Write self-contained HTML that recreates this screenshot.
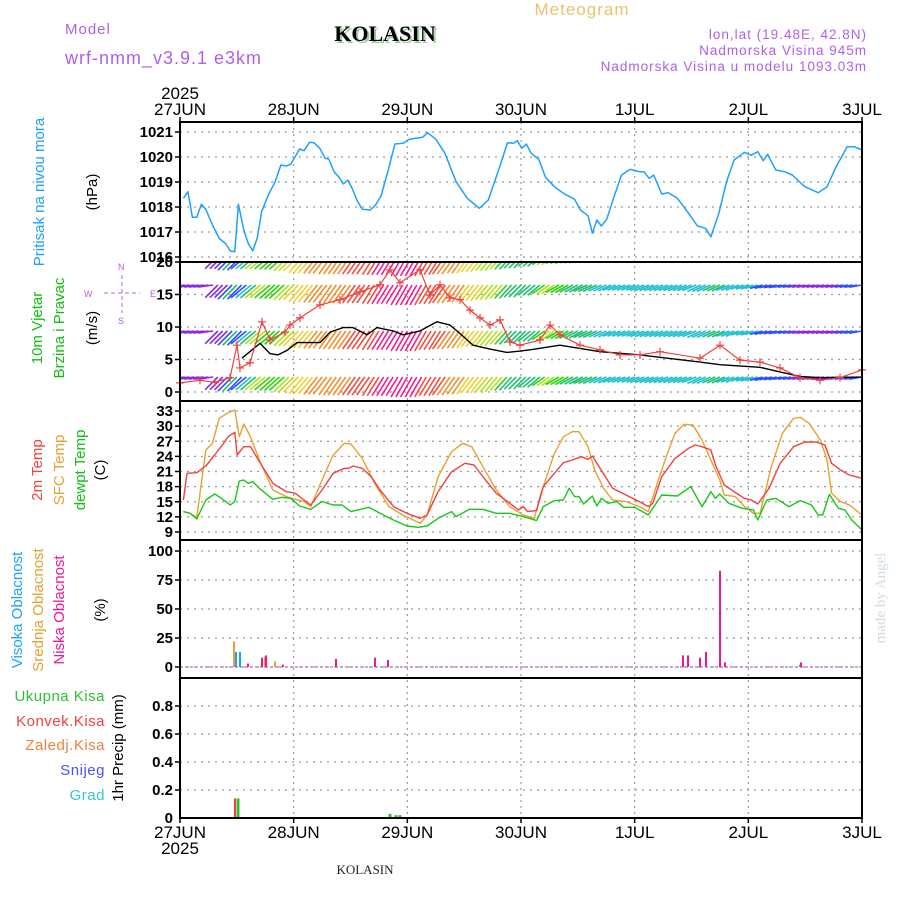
<!DOCTYPE html>
<html><head><meta charset="utf-8">
<style>
body{margin:0;background:#fff;}
svg{display:block;font-family:"Liberation Sans","DejaVu Sans",sans-serif;}
.tk{font-size:15px;fill:#000;text-anchor:end;font-weight:bold;}
.dl{font-size:17px;fill:#000;text-anchor:middle;}
</style></head>
<body>
<svg id="chart" width="900" height="900" viewBox="0 0 900 900">
<rect width="900" height="900" fill="#fff"/>
<text x="582" y="15" font-size="17" fill="#f0c070" text-anchor="middle" letter-spacing="1">Meteogram</text>
<text x="65" y="34" font-size="15" fill="#b060e8" letter-spacing="1">Model</text>
<text x="65" y="64" font-size="18" fill="#b060e8" letter-spacing="1">wrf-nmm_v3.9.1 e3km</text>
<text x="387" y="43" font-size="22" font-weight="bold" fill="#9c9" font-family="Liberation Serif,serif" text-anchor="middle">KOLASIN</text>
<text x="385" y="41" font-size="22" font-weight="bold" fill="#000" font-family="Liberation Serif,serif" text-anchor="middle">KOLASIN</text>
<text x="867" y="39" font-size="13.5" fill="#b060e8" text-anchor="end" letter-spacing="1">lon,lat (19.48E, 42.8N)</text>
<text x="867" y="55" font-size="13.5" fill="#b060e8" text-anchor="end" letter-spacing="1">Nadmorska Visina 945m</text>
<text x="867" y="71" font-size="13.5" fill="#b060e8" text-anchor="end" letter-spacing="1">Nadmorska Visina u modelu 1093.03m</text>
<text x="365" y="874" font-size="13" fill="#222" font-family="Liberation Serif,serif" text-anchor="middle">KOLASIN</text>
<text transform="translate(885,598) rotate(-90)" font-size="15" fill="#cfe0cf" font-family="Liberation Serif,serif" text-anchor="middle">made by Angel</text>

<text transform="translate(44,192) rotate(-90)" font-size="15" fill="#1ea0ff" text-anchor="middle">Pritisak na nivou mora</text>
<text transform="translate(97,192) rotate(-90)" font-size="15" fill="#000" text-anchor="middle">(hPa)</text>
<text transform="translate(42,328) rotate(-90)" font-size="15" fill="#10c010" text-anchor="middle">10m Vjetar</text>
<text transform="translate(64,328) rotate(-90)" font-size="15" fill="#10c010" text-anchor="middle">Brzina i Pravac</text>
<text transform="translate(97,328) rotate(-90)" font-size="15" fill="#000" text-anchor="middle">(m/s)</text>
<g fill="#b060e8" stroke="#b060e8" font-size="9">
<text x="84" y="297" stroke="none">W</text><text x="150" y="297" stroke="none">E</text>
<text x="118" y="270" stroke="none">N</text><text x="118" y="324" stroke="none">S</text>
<line x1="104" y1="293" x2="140" y2="293" stroke-dasharray="4,3"/><line x1="122" y1="275" x2="122" y2="313" stroke-dasharray="4,3"/>
</g>
<text transform="translate(42,470) rotate(-90)" font-size="15" fill="#f04040" text-anchor="middle">2m Temp</text>
<text transform="translate(64,470) rotate(-90)" font-size="15" fill="#e8a030" text-anchor="middle">SFC Temp</text>
<text transform="translate(85,470) rotate(-90)" font-size="15" fill="#10c010" text-anchor="middle">dewpt Temp</text>
<text transform="translate(105,470) rotate(-90)" font-size="15" fill="#000" text-anchor="middle">(C)</text>
<text transform="translate(22,610) rotate(-90)" font-size="15" fill="#1ea0ff" text-anchor="middle">Visoka Oblacnost</text>
<text transform="translate(43,610) rotate(-90)" font-size="15" fill="#e8a030" text-anchor="middle">Srednja Oblacnost</text>
<text transform="translate(64,610) rotate(-90)" font-size="15" fill="#f01890" text-anchor="middle">Niska Oblacnost</text>
<text transform="translate(105,610) rotate(-90)" font-size="15" fill="#000" text-anchor="middle">(%)</text>
<g font-size="15" text-anchor="end" letter-spacing="0.5">
<text x="105" y="701" fill="#30c030">Ukupna  Kisa</text>
<text x="105" y="726" fill="#f04040">Konvek.Kisa</text>
<text x="105" y="750" fill="#f08040">Zaledj.Kisa</text>
<text x="105" y="775" fill="#5050f0">Snijeg</text>
<text x="105" y="800" fill="#30c8c8">Grad</text>
</g>
<text transform="translate(123,748) rotate(-90)" font-size="15" fill="#000" text-anchor="middle">1hr Precip (mm)</text>
</svg>
<script>
// ---- data ----
var dayLabels=["27JUN","28JUN","29JUN","30JUN","1JUL","2JUL","3JUL"];
var presTicks=[1016,1017,1018,1019,1020,1021];
var windTicks=[0,5,10,15,20];
var tempTicks=[9,12,15,18,21,24,27,30,33];
var cloudTicks=[0,25,50,75,100];
var precipTicks=[0.2,0.4,0.6,0.8];
var precipTickLabels=["0.2","0.4","0.6","0.8"];

var presZX=[30,40,50,60,70,80,95,110,125,135,145,153,165,175,185,195,205,220,235,248,260,270,290,300,312,322,335,347,355,367,378,388,398,408,418,430,448,460,472,488,503,522,535,550,565,576,595,615,640,665,692,712,735,755,768,777,787,797,808,825,840,860,880,905,918,935,945,955,965,977,992,1010,1030,1050,1060,1072,1082,1100,1115,1135,1160,1180,1198,1210,1228,1245,1262,1285,1300,1315,1327,1337,1355,1375,1392,1420,1450,1470,1490,1515,1530,1548];
var presZY=[235,215,292,292,253,268,315,355,372,393,395,253,330,370,392,355,275,225,185,135,138,133,87,92,67,68,85,115,117,155,172,192,180,207,240,268,270,255,228,152,72,70,58,55,52,38,58,100,185,235,265,240,150,68,70,62,85,72,100,118,172,200,220,238,270,287,340,300,318,298,235,165,148,155,155,175,165,222,218,235,280,318,325,350,280,185,120,97,106,95,122,103,150,155,165,200,218,200,140,80,80,90];

var t2ZX=[30,38,60,80,100,120,130,145,150,165,180,200,230,260,280,300,315,340,365,390,400,410,430,450,470,500,530,560,575,600,630,660,680,700,730,760,780,790,800,820,835,860,880,900,920,935,945,960,990,1020,1050,1070,1080,1100,1130,1160,1175,1190,1210,1220,1240,1265,1285,1300,1315,1340,1365,1395,1420,1445,1465,1480,1500,1520,1548];
var t2ZY=[300,220,218,198,165,130,110,97,165,140,140,185,250,275,280,300,315,270,220,205,205,198,205,230,270,320,340,355,345,275,215,190,195,230,280,310,330,320,335,332,260,220,188,180,170,178,168,200,265,285,305,320,310,230,175,145,135,140,150,195,255,278,295,300,312,265,190,140,126,126,135,190,210,225,235];
var sfcZX=[30,45,60,80,95,110,130,145,155,165,180,200,230,260,280,300,315,340,365,390,405,430,460,490,520,560,575,600,630,655,675,700,730,760,790,815,830,860,880,900,915,935,950,970,990,1020,1050,1070,1090,1110,1130,1150,1170,1190,1210,1230,1240,1265,1285,1305,1320,1345,1370,1395,1410,1430,1455,1470,1480,1500,1520,1548];
var sfcZY=[335,340,352,150,130,55,38,30,110,72,110,180,270,290,298,305,320,240,165,130,132,175,255,320,345,370,345,230,155,130,140,200,270,320,345,355,280,160,110,95,95,140,210,265,300,305,320,335,250,170,100,73,75,120,180,240,285,290,320,340,340,200,100,55,52,70,120,180,280,305,315,345];
var dewZX=[30,45,60,80,100,115,135,145,155,165,175,185,200,230,250,270,290,315,340,365,385,405,445,470,500,530,555,575,600,630,640,670,700,730,760,790,820,835,860,880,893,905,915,925,945,955,965,980,1000,1015,1040,1070,1100,1135,1165,1190,1210,1220,1230,1250,1280,1305,1315,1335,1355,1385,1410,1435,1450,1460,1475,1495,1510,1525,1548];
var dewZY=[335,340,357,300,282,295,315,305,243,240,250,245,265,298,292,295,318,328,305,315,315,335,322,340,360,378,382,378,355,335,350,328,328,340,340,350,362,320,302,300,265,290,290,312,288,318,295,310,305,322,322,345,285,288,260,320,275,295,282,310,325,330,360,300,295,320,302,315,345,345,283,325,330,360,390];

var windX=[242,260,270,278,287,297,320,330,343,353,367,377,393,403,420,437,450,460,473,490,507,520,530,560,600,640,700,720,760,780,800,820,862];
var windSpd=[5.2,7.5,5.9,5.7,6.4,7.6,7.6,9.2,9.9,9.9,8.8,9.9,9.4,8.8,9.4,10.8,10.3,9.0,7.2,6.6,6.1,6.3,6.5,7.2,6.2,5.7,4.6,4.2,3.8,3.1,2.4,2.2,2.3];
var gustX=[180,200,215,230,237,240,250,262,270,285,290,300,320,340,360,380,390,400,420,430,440,450,460,470,480,490,500,510,520,540,550,560,580,600,620,640,660,700,720,740,760,780,800,820,840,862];
var gustSpd=[1.4,1.8,1.5,2.2,7.2,3.7,4.5,10.8,8.0,9.2,10.3,11.4,13.4,14.2,15.4,16.5,18.8,16.8,18.8,14.9,16.5,14.5,14.2,12.6,11.4,10.3,11.1,7.7,7.2,8.0,10.3,8.8,7.2,6.5,5.7,5.7,6.2,5.2,7.2,4.9,4.6,3.7,2.2,1.8,2.2,3.4];
// barb direction (deg below leftward horizontal) and length every 3 hours (49 values)
var barbAng=[8,8,8,45,45,40,40,42,45,50,52,55,55,55,58,58,60,60,58,55,55,52,50,48,45,40,35,30,28,25,25,22,22,22,22,22,22,25,25,22,18,15,12,10,10,10,10,10,10];
var barbLen=[15,15,15,18,20,20,20,20,21,22,22,22,22,22,22,22,23,23,22,22,21,20,19,18,17,16,15,15,15,15,14,14,14,15,15,15,15,15,14,14,13,13,13,13,13,13,13,13,13];

var cloudHiX=[236,240,800];
var cloudHi=[13,13,2];
var cloudMidX=[234,265,275];
var cloudMid=[22,9,5];
var cloudLowX=[248,262,266,283,336,375,388,683,688,700,706,720,725,801];
var cloudLow=[3,8,10,2,7,8,6,10,10,8,13,83,4,4];
var rainX=[236,388,394,398];
var rainTot=[0.14,0.03,0.02,0.02];
var convX=[237];
var convVal=[0.14];

// ---- axes ----
var X0=180,X1=862,HRS=144,ZS=2.237;
function xh(h){return X0+h*(X1-X0)/HRS;}
function zxToH(zx){return (170+zx/ZS-X0)*HRS/(X1-X0);}
function xpx(px){return (px-X0)*HRS/(X1-X0);}
function yP(v){return 257-(v-1016)*25;}
function yW(v){return 392-v*6.5;}
function yT(v){return 532-(v-9)*121/24;}
function yC(v){return 667-v*1.16;}
function yR(v){return 818-v*140;}

var svg=document.getElementById('chart'),NS='http://www.w3.org/2000/svg';
function mk(tag,attrs,parent){var e=document.createElementNS(NS,tag);for(var k in attrs)e.setAttribute(k,attrs[k]);(parent||svg).appendChild(e);return e;}

var gGrid=mk('g',{});


for(var d=1;d<6;d++){var gx=xh(d*24);var vl=mk('line',{x1:gx,x2:gx,y1:122,y2:818,stroke:'#999','stroke-dasharray':'2,4','stroke-width':1.2},gGrid);

}
function hgrid(ticks,fy,labels,name){
 ticks.forEach(function(t,i){var y=fy(t);
  var gl=mk('line',{x1:X0,x2:X1,y1:y,y2:y,stroke:'#999','stroke-dasharray':'2,5','stroke-width':1.2},gGrid);
  
  
  var tl=mk('line',{x1:X0-5,x2:X0,y1:y,y2:y,stroke:'#000','stroke-width':1.5});
  
  
  var tx=mk('text',{x:X0-7,y:y+5,'class':'tk'});tx.textContent=labels?labels[i]:String(t);
  
  
 });}
hgrid(presTicks,yP,null,'pressure');
hgrid(windTicks,yW,null,'wind');
hgrid(tempTicks,yT,null,'temp');
hgrid(cloudTicks,yC,null,'cloud');
hgrid(precipTicks,yR,precipTickLabels,'precip');
var z=mk('text',{x:X0-7,y:823,'class':'tk'});z.textContent='0';



dayLabels.forEach(function(l,i){var x=xh(i*24);
 var t1=mk('text',{x:x,y:115,'class':'dl'});t1.textContent=l;
 
 
 var t2=mk('text',{x:x,y:838,'class':'dl'});t2.textContent=l;
 
 
 var k1=mk('line',{x1:x,x2:x,y1:117,y2:122,stroke:'#000','stroke-width':1.5});
 
 
 var k2=mk('line',{x1:x,x2:x,y1:818,y2:823,stroke:'#000','stroke-width':1.5});
 
 
});
var yr1=mk('text',{x:X0,y:99,'class':'dl'});yr1.textContent='2025';


var yr2=mk('text',{x:X0,y:854,'class':'dl'});yr2.textContent='2025';



function poly(xs,ys,color,w,name){var pts=xs.map(function(x,i){return x.toFixed(1)+','+ys[i].toFixed(1);}).join(' ');
 var p=mk('polyline',{points:pts,fill:'none',stroke:color,'stroke-width':w,'stroke-linejoin':'round'});
 
 return p;}

poly(presZX.map(function(z){return xh(zxToH(z));}),presZY.map(function(z){return yP(1021.48-z/75);}),'#1ea0ff',1.5,'pressure-line');

function zyT(z){return 35.18-z/15.13;}
poly(sfcZX.map(function(z){return xh(zxToH(z));}),sfcZY.map(function(z){return yT(zyT(z));}),'#e8a030',1.4,'sfc-temp-line');
poly(t2ZX.map(function(z){return xh(zxToH(z));}),t2ZY.map(function(z){return yT(zyT(z));}),'#f04040',1.4,'temp-2m-line');
poly(dewZX.map(function(z){return xh(zxToH(z));}),dewZY.map(function(z){return yT(zyT(z));}),'#18c818',1.4,'dewpoint-line');

var cp=mk('clipPath',{id:'wclip'});mk('rect',{x:X0,y:263,width:X1-X0,height:137},cp);
var gB=mk('g',{'clip-path':'url(#wclip)'});


function gustAt(h){var px=xh(h);for(var i=1;i<gustX.length;i++){if(px<=gustX[i]){var f=(px-gustX[i-1])/(gustX[i]-gustX[i-1]);return gustSpd[i-1]+f*(gustSpd[i]-gustSpd[i-1]);}}return gustSpd[gustSpd.length-1];}
function colorFor(g){var stops=[[1,'#8a2be2'],[2.5,'#3050ff'],[4.5,'#20c0d0'],[6.5,'#20c070'],[8,'#30d010'],[9.5,'#b0e020'],[11,'#f0d030'],[13,'#f09030'],[15,'#f05040'],[17,'#f02090'],[19,'#e010a0']];
 for(var i=stops.length-1;i>=0;i--)if(g>=stops[i][0])return stops[i][1];return stops[0][1];}
var rows=[256,285,331,377];
for(var h=0;h<=144;h+=1){var i3=Math.min(48,Math.round(h/3));var a=barbAng[i3]*Math.PI/180,L=barbLen[i3];var c=colorFor(gustAt(h));
 rows.forEach(function(Y){var x=xh(h);
  var b=mk('line',{x1:x,y1:Y,x2:x-L*Math.cos(a),y2:Y+L*Math.sin(a),stroke:c,'stroke-width':1.6},gB);
  
  
 });}
poly(windX.map(function(p){return xh(xpx(p));}),windSpd.map(yW),'#000',1.4,'wind-speed-line');
poly(gustX.map(function(p){return xh(xpx(p));}),gustSpd.map(yW),'#f04040',1.2,'wind-gust-line');
gustX.forEach(function(p,i){var x=xh(xpx(p)),y=yW(gustSpd[i]);
 var m=mk('path',{d:'M'+(x-4)+' '+y+'h8M'+x+' '+(y-4)+'v8',stroke:'#f04040','stroke-width':1.2});
 
 });

var base=mk('line',{x1:X0,x2:X1,y1:yC(0),y2:yC(0),stroke:'#b070c0','stroke-width':1.2,'stroke-dasharray':'3,2'});


function bars(xs,vals,fy,color,name,w,off){xs.forEach(function(p,i){var x=xh(xpx(p))+(off||0),y=fy(vals[i]),y0=fy(0);
 var r=mk('rect',{x:x-w/2,y:y,width:w,height:Math.max(0,y0-y),fill:color});
 
 });}
bars(cloudMidX,cloudMid,yC,'#e8a030','mid-cloud-bar',2);
bars(cloudHiX,cloudHi,yC,'#1ea0ff','high-cloud-bar',2);
bars(cloudLowX,cloudLow,yC,'#f01890','low-cloud-bar',2);
bars(rainX,rainTot,yR,'#30c030','total-rain-bar',3,2);
bars(convX,convVal,yR,'#f04040','conv-rain-bar',2,-2);

var gF=mk('g',{fill:'none',stroke:'#000','stroke-width':2});


mk('rect',{x:X0,y:122,width:X1-X0,height:696},gF);
[262,401,540,678].forEach(function(y){mk('line',{x1:X0,x2:X1,y1:y,y2:y},gF);});
</script>
</body></html>
